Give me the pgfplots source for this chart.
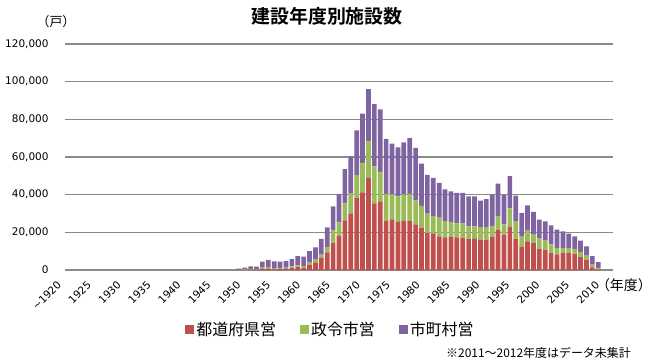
\documentclass[border=0pt]{standalone}
\usepackage{fontspec}
\usepackage{pgfplots}
\usepackage{pgfplotstable}
\pgfplotsset{compat=1.18}
\setmainfont{DejaVu Sans}
\newfontfamily\jp{Noto Sans CJK JP}[BoldFont={Noto Sans CJK JP Bold}]
\definecolor{cred}{HTML}{C0504D}
\definecolor{cgreen}{HTML}{9BBB59}
\definecolor{cpurple}{HTML}{8064A2}
\definecolor{cgrid}{HTML}{8A8A8A}
% x = year - 1920 ; r = prefectural, g = designated city, p = municipal
\pgfplotstableread{
x r g p
29 0 100 600
30 0 300 900
31 150 450 1300
32 200 300 1300
33 900 600 2900
34 900 700 3800
35 300 400 3900
36 500 600 3300
37 900 400 3400
38 1200 700 3900
39 1800 700 4900
40 1300 800 5000
41 2800 1100 6100
42 4100 1400 6500
43 6600 1600 8300
44 9400 2900 10400
45 14300 6700 12800
46 18000 7300 15000
47 26400 9000 18100
48 30100 10400 19700
49 38100 12300 23800
50 41200 15400 26400
51 48900 19400 27800
52 35400 19600 33100
53 36500 15400 33400
54 26000 14400 29200
55 26900 13300 26900
56 25500 13600 26000
57 26100 14100 27600
58 26000 14400 29700
59 24200 12800 27800
60 22500 11500 22500
61 19700 10200 20600
62 19400 9400 20100
63 17900 9900 18400
64 17300 8700 16800
65 17700 7900 16100
66 17300 7500 16100
67 17200 7600 16100
68 16600 6600 15900
69 16500 6700 15900
70 16100 6400 14300
71 16100 6400 15200
72 17700 5700 16600
73 21400 7300 17100
74 18800 5400 15600
75 23000 9700 17200
76 16600 9100 13800
77 12400 5300 12600
78 15200 5700 13400
79 14500 4600 11700
80 11300 5300 10100
81 10800 5100 9900
82 9200 4400 10100
83 8300 3400 9700
84 9200 2500 8800
85 9000 2700 7600
86 8700 2500 6700
87 7100 2500 6000
88 5300 2300 5000
89 1400 1400 4600
90 350 550 3300
}\data
\begin{document}
\begin{tikzpicture}
\begin{axis}[
  at={(65bp,-270bp)}, anchor=south west,
  scale only axis, width=548bp, height=226bp,
  ybar stacked, bar width=4.7bp,
  xmin=-0.5, xmax=92.5, ymin=0, ymax=120000,
  enlarge x limits=false,
  axis x line*=bottom, axis y line*=left,
  y axis line style={draw=none},
  x axis line style={cgrid, line width=1.8bp, -},
  major tick length=0pt,
  ytick={0,20000,...,120000},
  scaled y ticks=false,
  /pgf/number format/fixed,
  /pgf/number format/1000 sep={,},
  /pgf/number format/assume math mode=true,
  ymajorgrids, grid style={cgrid, line width=1.1bp},
  every y tick label/.append style={font=\fontsize{10.5}{12}\selectfont, anchor=east, xshift=-13bp},
  xtick={0,5,...,90},
  xticklabels={},
  legend style={at={(axis description cs:0.4845,-0.265)}, anchor=center, draw=none, fill=none,
    legend columns=3, font=\jp\fontsize{16}{18}\selectfont,
    /tikz/every even column/.append style={column sep=22bp}},
  legend image code/.code={\fill[#1] (0bp,-4.5bp) rectangle (9bp,4.5bp);},
]
\addplot[fill=cred, draw=none] table[x=x, y=r]{\data};
\addplot[fill=cgreen, draw=none] table[x=x, y=g]{\data};
\addplot[fill=cpurple, draw=none] table[x=x, y=p]{\data};
\legend{都道府県営,政令市営,市町村営}
\end{axis}
% rotated category labels (every fifth year)
\foreach \i/\lab in {0/{\textasciitilde1920},5/1925,10/1930,15/1935,20/1940,25/1945,30/1950,35/1955,40/1960,45/1965,50/1970,55/1975,60/1980,65/1985,70/1990,75/1995,80/2000,85/2005,90/2010}
  \node[rotate=45, anchor=east, inner sep=0pt, font=\fontsize{10.5}{12}\selectfont]
    at ({(59.3+5.98*\i)*1bp},-283bp) {\lab};
\node[font=\jp\bfseries\fontsize{19}{22}\selectfont] at (327bp,-16bp) {建設年度別施設数};
\node[font=\jp\fontsize{13}{15}\selectfont] at (56bp,-22bp) {（戸）};
\node[font=\jp\fontsize{14}{16}\selectfont, anchor=east, inner sep=0pt] at (652bp,-285bp) {（年度）};
\node[font=\jp\fontsize{12}{14}\selectfont, anchor=east, inner sep=0pt] at (631bp,-353bp) {※2011～2012年度はデータ未集計};
\pgfresetboundingbox
\useasboundingbox (0,0) rectangle (652bp,-362bp);
\end{tikzpicture}
\end{document}
